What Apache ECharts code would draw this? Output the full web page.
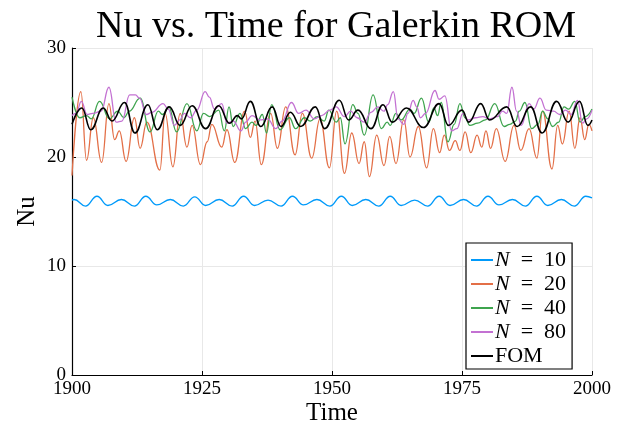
<!DOCTYPE html>
<html>
<head>
<meta charset="utf-8">
<script src="https://cdn.jsdelivr.net/npm/echarts@6/dist/echarts.min.js"></script>
<style>html,body{margin:0;padding:0;background:#fff}#c{width:638px;height:431px}</style>
</head>
<body>
<div id="c"></div>
<script>
// ---- Data (times of turning points and their values) ----
const xTicks = [1900, 1925, 1950, 1975, 2000];
const yTicks = [0, 10, 20, 30];

const tN10 = [1900.0,1900.4,1902.6,1904.8,1906.9,1909.5,1912.0,1914.2,1916.3,1918.9,1921.4,1923.6,1925.7,1928.3,1930.8,1933.0,1935.1,1937.7,1940.2,1942.4,1944.5,1947.1,1949.6,1951.8,1953.9,1956.5,1959.0,1961.2,1963.3,1965.9,1968.4,1970.6,1972.7,1975.3,1977.8,1980.0,1982.1,1984.7,1987.2,1989.4,1991.5,1994.1,1996.6,1998.8,2000.0];
const vN10 = [16.05,16.1,15.5,16.4,15.55,16.1,15.5,16.4,15.6,16.1,15.5,16.35,15.55,16.1,15.5,16.4,15.55,16.05,15.5,16.4,15.6,16.1,15.5,16.4,15.55,16.1,15.5,16.4,15.55,16.05,15.5,16.4,15.55,16.1,15.5,16.4,15.6,16.1,15.5,16.4,15.55,16.1,15.5,16.4,16.25];

const tN20 = [1900.0,1901.7,1902.8,1904.1,1905.7,1907.1,1908.2,1909.1,1910.4,1912.0,1913.1,1914.4,1916.9,1917.9,1919.4,1920.8,1922.1,1923.1,1924.7,1926.0,1926.9,1928.8,1929.8,1931.3,1933.2,1934.3,1935.2,1936.4,1938.2,1939.5,1941.1,1942.9,1944.3,1946.1,1947.7,1949.5,1950.9,1952.4,1953.8,1955.2,1956.2,1957.2,1958.6,1960.0,1961.1,1962.3,1963.8,1965.0,1966.6,1968.2,1969.5,1970.7,1971.6,1972.6,1973.7,1974.6,1975.6,1976.7,1977.9,1978.8,1979.6,1980.5,1981.6,1983.3,1985.0,1986.3,1987.9,1989.4,1990.5,1992.3,1993.4,1994.3,1995.6,1996.7,1997.7,1998.6,1999.4,2000.0];
const vN20 = [18.3,26.0,19.7,23.6,19.5,24.9,21.6,22.4,19.6,23.6,20.8,23.2,18.8,24.0,19.1,24.0,20.9,22.9,19.3,21.4,23.0,20.9,22.5,19.5,24.2,21.8,23.3,19.3,24.0,20.8,24.6,20.2,24.0,19.9,23.5,19.0,24.2,18.5,22.2,19.4,21.4,18.2,22.0,19.2,21.9,19.4,23.4,20.0,22.8,19.0,22.6,20.4,22.0,20.6,21.5,20.6,22.3,20.4,22.0,20.9,22.4,20.8,22.6,19.6,22.9,20.6,22.6,19.9,24.2,18.9,22.9,21.2,24.2,20.8,23.6,21.6,23.0,22.4];

const tN40 = [1900.0,1901.5,1902.8,1903.7,1905.3,1907.2,1908.8,1910.0,1911.0,1913.1,1915.0,1916.6,1917.4,1918.6,1920.1,1922.1,1924.0,1925.3,1926.5,1928.2,1929.3,1930.2,1931.0,1932.3,1933.4,1934.6,1935.4,1936.6,1937.4,1938.4,1940.0,1941.8,1943.0,1944.7,1945.8,1947.2,1948.5,1949.4,1950.8,1951.6,1952.5,1954.0,1955.0,1956.2,1957.9,1959.5,1960.6,1961.2,1962.3,1963.3,1965.0,1965.8,1967.2,1968.6,1969.6,1970.3,1971.0,1972.3,1973.5,1974.6,1975.6,1976.5,1978.0,1979.5,1981.3,1983.1,1984.2,1985.3,1986.0,1987.1,1988.4,1989.6,1990.5,1991.5,1992.4,1993.6,1994.6,1995.5,1996.7,1997.7,1998.7,2000.0];
const vN40 = [25.5,23.6,23.8,23.5,25.1,23.5,24.2,23.6,24.2,25.4,22.3,24.2,23.9,24.6,22.3,24.9,22.4,24.0,23.7,24.3,22.4,24.6,22.8,24.0,22.6,23.2,22.9,23.9,22.2,24.8,22.5,23.6,22.6,23.6,23.3,23.7,23.3,24.3,23.2,23.6,21.2,24.8,24.0,22.0,25.7,22.6,23.2,22.9,24.0,23.4,24.4,24.0,25.4,23.2,24.5,23.8,25.0,21.4,23.0,24.9,23.6,22.9,23.1,23.4,24.9,22.8,23.0,23.3,24.2,25.0,22.6,23.0,24.2,23.5,22.8,23.2,24.6,24.4,25.1,23.2,23.7,24.4];

const tN80 = [1900.0,1900.8,1901.8,1902.9,1904.0,1905.6,1907.1,1908.5,1909.6,1911.1,1912.2,1913.0,1914.3,1915.4,1917.5,1918.5,1919.7,1920.7,1921.6,1922.8,1924.0,1925.6,1926.4,1927.4,1928.8,1929.8,1931.0,1932.5,1933.4,1934.6,1936.2,1937.6,1939.2,1940.4,1942.2,1943.6,1945.0,1946.6,1948.0,1949.6,1950.8,1952.4,1953.6,1954.8,1956.2,1957.5,1958.8,1960.0,1960.7,1961.8,1962.7,1963.8,1964.6,1965.6,1966.3,1967.0,1968.0,1969.8,1970.6,1971.7,1973.0,1974.0,1975.2,1976.2,1977.6,1979.0,1980.2,1981.8,1982.8,1983.6,1984.6,1985.5,1986.4,1987.9,1988.8,1990.0,1991.2,1992.6,1993.8,1994.9,1996.0,1997.2,1998.2,1999.0,2000.0];
const vN80 = [23.8,24.0,25.1,23.9,24.0,24.2,26.4,23.2,23.3,25.7,25.7,25.4,23.9,24.1,24.9,24.4,22.9,23.4,24.0,23.6,24.3,26.0,25.5,24.4,24.9,23.1,23.3,22.4,23.2,23.8,23.4,23.5,22.6,23.3,25.0,24.0,24.3,23.5,23.8,24.3,24.6,23.7,24.2,23.6,23.2,24.1,24.6,24.2,24.8,26.0,23.5,23.0,24.0,25.2,24.6,23.6,24.0,26.1,25.3,25.6,22.4,22.6,24.0,23.4,23.6,23.7,23.5,23.7,24.2,24.0,26.4,24.2,22.9,24.9,24.4,25.4,24.3,24.2,23.9,24.3,23.9,25.2,23.1,23.5,24.3];

const tFOM = [1900.0,1901.9,1903.6,1906.0,1907.7,1910.1,1912.1,1914.6,1916.4,1918.7,1920.8,1923.1,1925.7,1928.2,1930.3,1931.8,1932.6,1934.3,1936.3,1938.5,1940.2,1942.0,1944.0,1946.8,1948.6,1951.4,1953.2,1955.0,1957.5,1959.8,1961.6,1964.3,1967.6,1970.6,1972.4,1975.0,1976.3,1978.6,1980.3,1983.6,1985.6,1988.2,1990.4,1993.2,1995.4,1997.6,1999.2,2000.0];
const vFOM = [23.0,24.5,22.5,24.5,23.3,25.0,22.2,24.8,22.5,24.6,22.9,24.7,22.6,24.7,23.1,23.8,23.5,25.1,22.8,24.6,22.8,24.1,22.8,24.6,22.6,25.2,23.4,24.3,22.6,24.8,23.2,24.5,22.7,24.9,22.9,24.3,23.2,24.9,23.4,24.6,22.8,24.6,22.2,25.1,23.2,25.1,22.9,23.4];

const seriesNames = ['N = 10', 'N = 20', 'N = 40', 'N = 80', 'FOM'];
const colors = ['#009AFA', '#E36F47', '#3EA44E', '#C371D2', '#000000'];
const widths = [1.3, 1.3, 1.3, 1.3, 1.6];
const times = [tN10, tN20, tN40, tN80, tFOM];
const values = [vN10, vN20, vN40, vN80, vFOM];

const FONT = 'Liberation Serif';

function zip(t, v) { return t.map((x, i) => [x, v[i]]); }

const chart = echarts.init(document.getElementById('c'), null, {renderer: 'canvas'});
const series = seriesNames.map((n, i) => ({
  name: n,
  type: 'line',
  data: zip(times[i], values[i]),
  smooth: 0.45,
  smoothMonotone: 'x',
  showSymbol: false,
  symbol: 'none',
  lineStyle: {color: colors[i], width: widths[i]},
  itemStyle: {color: colors[i]},
  z: i + 2,
  animation: false
}));

chart.setOption({
  animation: false,
  backgroundColor: '#fff',
  title: {
    text: 'Nu vs. Time for Galerkin ROM',
    left: 331, top: 3, textAlign: 'center',
    textStyle: {fontFamily: FONT, fontSize: 38, fontWeight: 'normal', color: '#000'}
  },
  grid: {left: 72, right: 46, top: 48, bottom: 55, containLabel: false},
  xAxis: {
    type: 'value', min: xTicks[0], max: xTicks[xTicks.length - 1], interval: 25,
    name: 'Time', nameLocation: 'middle', nameGap: 26, nameMoveOverlap: false,
    nameTextStyle: {fontFamily: FONT, fontSize: 25, color: '#000'},
    axisLine: {show: true, onZero: false, lineStyle: {color: '#000', width: 1.2}},
    axisTick: {show: true, inside: true, length: 4, lineStyle: {color: '#000'}},
    axisLabel: {fontFamily: FONT, fontSize: 19, color: '#000', margin: 5,
                formatter: function (v) { return String(v); }},
    splitLine: {show: true, lineStyle: {color: '#e8e8e8', width: 1}}
  },
  yAxis: {
    type: 'value', min: yTicks[0], max: yTicks[yTicks.length - 1], interval: 10,
    name: 'Nu', nameLocation: 'middle', nameGap: 32, nameRotate: 90, nameMoveOverlap: false,
    nameTextStyle: {fontFamily: FONT, fontSize: 25, color: '#000'},
    axisLine: {show: true, lineStyle: {color: '#000', width: 1.2}},
    axisTick: {show: true, inside: true, length: 4, lineStyle: {color: '#000'}},
    axisLabel: {fontFamily: FONT, fontSize: 19, color: '#000', margin: 6,
                formatter: function (v) { return String(v); }},
    splitLine: {show: true, lineStyle: {color: '#e8e8e8', width: 1}}
  },
  legend: {
    data: seriesNames,
    orient: 'vertical',
    left: 466, top: 243,
    backgroundColor: '#fff',
    borderColor: '#000', borderWidth: 1.2,
    padding: [6, 6, 2, 5],
    itemWidth: 22, itemHeight: 2, itemGap: 2,
    icon: 'rect',
    textStyle: {
      fontFamily: FONT, fontSize: 22, color: '#000', padding: [0, 0, 0, -3], lineHeight: 20,
      rich: {i: {fontFamily: FONT, fontSize: 22, fontStyle: 'italic', color: '#000', lineHeight: 20},
             r: {fontFamily: FONT, fontSize: 22, color: '#000', lineHeight: 20}}
    },
    formatter: function (name) {
      if (name.indexOf('N = ') === 0) return '{i|N}{r|\u2002=\u2002' + name.slice(4) + '}';
      return '{r|' + name + '}';
    }
  },
  series: series
});
</script>
</body>
</html>
